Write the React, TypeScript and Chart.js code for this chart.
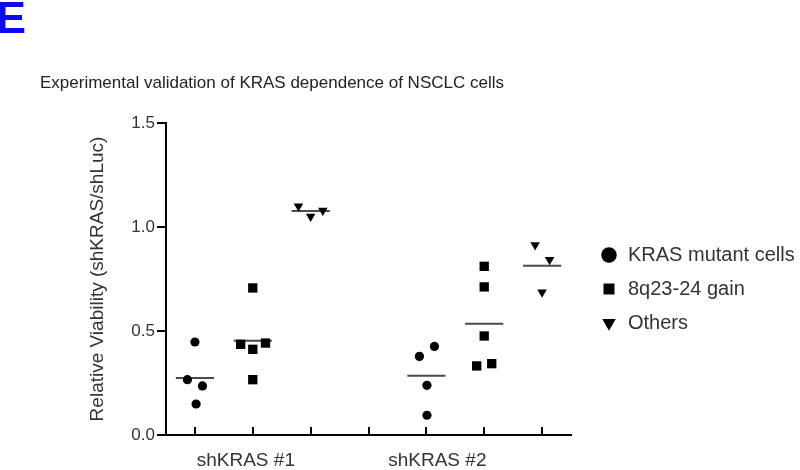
import React, { useEffect, useRef } from 'react';
import { Chart, registerables } from 'chart.js';

Chart.register(...registerables);

const panelLetter = 'E';
const chartTitle = 'Experimental validation of KRAS dependence of NSCLC cells';
const yAxisTitle = 'Relative Viability (shKRAS/shLuc)';

// categories under the x axis and where they sit on the column axis
const groupLabels = ['shKRAS #1', 'shKRAS #2'];
const groupLabelX = [1.88, 5.19];
// column tick positions (columns 1-3: shKRAS #1, 5-7: shKRAS #2)
const columnTicks = [1, 2, 3, 4, 5, 6, 7];
const yTicks = [0, 0.5, 1.0, 1.5];

const seriesNames = ['KRAS mutant cells', '8q23-24 gain', 'Others'];

// KRAS mutant cells (columns 1 and 5)
const krasCenters = [1, 5];
const krasGroup = [0, 0, 0, 0, 1, 1, 1, 1];
const krasX = [1.0, 0.87, 1.13, 1.02, 4.88, 5.14, 5.01, 5.01];
const krasY = [0.447, 0.266, 0.236, 0.149, 0.378, 0.426, 0.239, 0.095];

// 8q23-24 gain (columns 2 and 6)
const gainCenters = [2, 6];
const gainGroup = [0, 0, 0, 0, 0, 1, 1, 1, 1, 1];
const gainX = [2.0, 1.79, 2.22, 2.0, 2.0, 6.0, 6.0, 6.0, 5.87, 6.13];
const gainY = [0.707, 0.436, 0.442, 0.412, 0.266, 0.811, 0.712, 0.476, 0.332, 0.343];

// Others (columns 3 and 7)
const otherCenters = [3, 7];
const otherGroup = [0, 0, 0, 1, 1, 1];
const otherX = [2.79, 3.0, 3.21, 6.88, 7.13, 7.0];
const otherY = [1.1, 1.05, 1.079, 0.914, 0.842, 0.686];

const FONT = "'Liberation Sans', Arial, Helvetica, sans-serif";

function points(xs: number[], ys: number[]) {
  return xs.map((x, i) => ({ x, y: ys[i] }));
}

function meanLines(centers: number[], groups: number[], ys: number[]) {
  return centers.map((c, g) => {
    const vals = ys.filter((_, i) => groups[i] === g);
    const m = vals.reduce((a, b) => a + b, 0) / vals.length;
    return {
      type: 'line' as const,
      data: [
        { x: c - 0.33, y: m },
        { x: c + 0.33, y: m },
      ],
      showLine: true,
      borderColor: '#4a4a4a',
      borderWidth: 2,
      pointRadius: 0,
      fill: false,
    };
  });
}

const decorations = {
  id: 'decorations',
  afterDraw(chart: any) {
    const ctx = chart.ctx;
    const xs = chart.scales.x;
    const area = chart.chartArea;
    ctx.save();
    // inward column ticks on the x axis
    ctx.strokeStyle = '#000';
    ctx.lineWidth = 2;
    columnTicks.forEach((v) => {
      const px = Math.round(xs.getPixelForValue(v));
      ctx.beginPath();
      ctx.moveTo(px, area.bottom);
      ctx.lineTo(px, area.bottom - 8);
      ctx.stroke();
    });
    // panel letter
    ctx.fillStyle = '#0a0aee';
    ctx.font = `bold 45px ${FONT}`;
    ctx.textAlign = 'left';
    ctx.textBaseline = 'alphabetic';
    ctx.fillText(panelLetter, -4, 33);
    // title
    ctx.fillStyle = '#222';
    ctx.font = `17px ${FONT}`;
    ctx.fillText(chartTitle, 40, 88);
    ctx.restore();
  },
};

export default function App() {
  const ref = useRef<HTMLCanvasElement | null>(null);

  useEffect(() => {
    if (!ref.current) return;
    Chart.defaults.font.family = FONT;
    const chart = new Chart(ref.current, {
      type: 'scatter',
      plugins: [decorations],
      data: {
        datasets: [
          {
            label: seriesNames[0],
            data: points(krasX, krasY),
            pointStyle: 'circle',
            pointRadius: 4.6,
            backgroundColor: '#000',
            borderColor: '#000',
            borderWidth: 0,
          },
          {
            label: seriesNames[1],
            data: points(gainX, gainY),
            pointStyle: 'rect',
            pointRadius: 6.6,
            backgroundColor: '#000',
            borderColor: '#000',
            borderWidth: 0,
          },
          {
            label: seriesNames[2],
            data: points(otherX, otherY),
            pointStyle: 'triangle',
            pointRotation: 180,
            pointRadius: 5.5,
            backgroundColor: '#000',
            borderColor: '#000',
            borderWidth: 0,
          },
          ...meanLines(krasCenters, krasGroup, krasY),
          ...meanLines(gainCenters, gainGroup, gainY),
          ...meanLines(otherCenters, otherGroup, otherY),
        ] as any,
      },
      options: {
        animation: false,
        responsive: false,
        layout: { padding: { left: 86, top: 123, right: 0, bottom: 0 } },
        plugins: {
          tooltip: { enabled: false },
          legend: {
            position: 'right',
            fullSize: false,
            maxWidth: 214,
            title: {
              display: true,
              text: ' ',
              font: { size: 10, family: FONT },
              padding: { top: 0, bottom: 8 },
            },
            labels: {
              usePointStyle: true,
              boxWidth: 18,
              boxHeight: 11,
              padding: 14,
              color: '#333',
              font: { size: 20, family: FONT },
              filter: (item: any) => item.datasetIndex < 3,
            },
          },
        },
        scales: {
          x: {
            type: 'linear',
            min: 0.5,
            max: 7.5,
            afterBuildTicks: (s: any) => {
              s.ticks = groupLabelX.map((v) => ({ value: v }));
            },
            afterFit: (s: any) => {
              s.height = 35;
            },
            ticks: {
              callback: (_v: any, i: number) => groupLabels[i],
              font: { size: 19, family: FONT },
              color: '#333',
              padding: 6,
              maxRotation: 0,
              autoSkip: false,
            },
            grid: { display: false },
            border: { display: true, color: '#000', width: 2 },
          },
          y: {
            min: 0,
            max: 1.5,
            afterBuildTicks: (s: any) => {
              s.ticks = yTicks.map((v) => ({ value: v }));
            },
            afterFit: (s: any) => {
              s.width = 80;
            },
            ticks: {
              callback: (v: any) => Number(v).toFixed(1),
              font: { size: 17, family: FONT },
              color: '#333',
              padding: 2,
            },
            grid: {
              display: true,
              drawOnChartArea: false,
              drawTicks: true,
              tickLength: 9,
              color: '#000',
              lineWidth: 2,
            },
            border: { display: true, color: '#000', width: 2 },
            title: {
              display: true,
              text: yAxisTitle,
              color: '#333',
              font: { size: 19, family: FONT },
              padding: 0,
            },
          },
          gap: {
            type: 'linear',
            position: 'right',
            display: true,
            afterFit: (s: any) => {
              s.width = 15;
            },
            ticks: { display: false },
            grid: { display: false },
            border: { display: false },
          },
        },
      },
    });
    return () => chart.destroy();
  }, []);

  return (
    <canvas
      ref={ref}
      width={800}
      height={470}
      style={{ position: 'absolute', left: 0, top: 0, width: 800, height: 470 }}
    />
  );
}
